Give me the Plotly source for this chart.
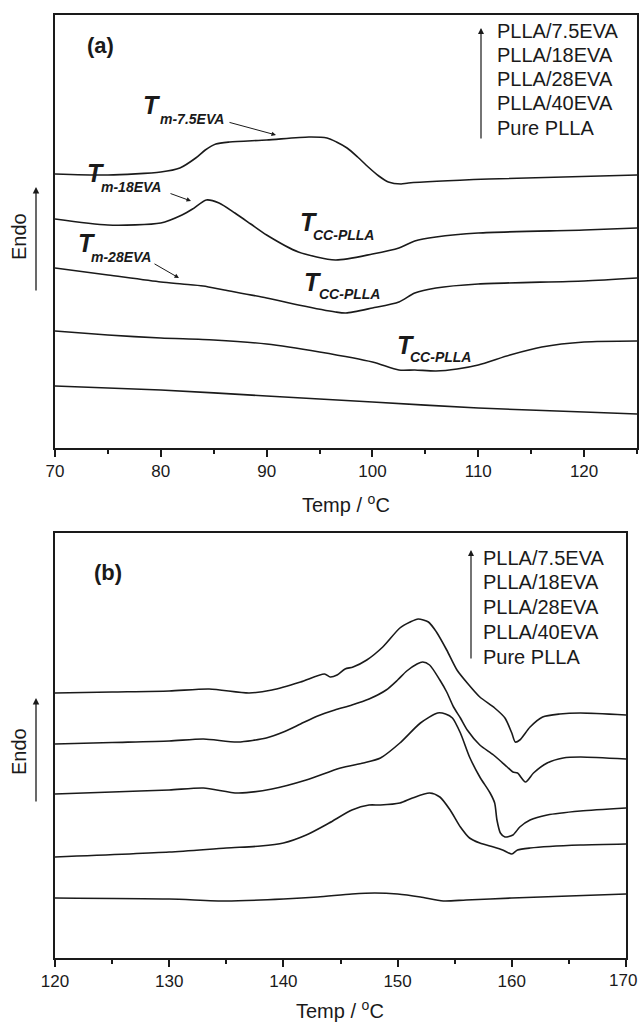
import plotly.graph_objects as go

W, H = 639, 1023
FONT = "Liberation Sans, Arial, sans-serif"
INK = "#1a1a1a"

series_names = ["PLLA/7.5EVA", "PLLA/18EVA", "PLLA/28EVA", "PLLA/40EVA", "Pure PLLA"]

# ---- Panel (a): cold crystallisation region (offset heat flow, a.u.) ----
a_t_75 = [70, 75, 80, 81.8, 83.3, 84.2, 85.2, 86.5, 90, 94, 95.7, 96.6, 97.6, 98.6, 99.6, 100.6, 101.5, 102.7, 103.4, 111, 125]
a_v_75 = [27.4, 27.3, 27.6, 28.0, 29.0, 29.8, 30.4, 30.6, 30.8, 31.1, 31.0, 30.6, 30.0, 29.1, 28.1, 27.2, 26.6, 26.4, 26.5, 26.9, 27.3]

a_t_18 = [70, 75, 80, 82, 83, 84.3, 85.5, 87, 88.5, 90, 93, 96.5, 100, 102.5, 104, 106, 110, 120, 125]
a_v_18 = [22.9, 22.3, 22.5, 23.3, 23.9, 24.8, 24.5, 23.5, 22.4, 21.3, 19.6, 18.8, 19.4, 20.0, 20.7, 21.1, 21.5, 21.8, 22.0]

a_t_28 = [70, 75, 80, 82, 84, 86, 90, 93, 96.5, 97.5, 100, 102.5, 104, 106, 110, 120, 125]
a_v_28 = [18.0, 17.3, 16.6, 16.4, 16.2, 15.8, 15.0, 14.3, 13.6, 13.5, 14.0, 14.6, 15.5, 16.0, 16.4, 16.7, 17.0]

a_t_40 = [70, 75, 80, 85, 90, 95, 100, 102.5, 104, 106, 108, 110, 113, 116, 120, 125]
a_v_40 = [11.7, 11.3, 11.0, 10.8, 10.4, 9.6, 8.6, 7.8, 7.8, 7.7, 7.9, 8.3, 9.3, 10.1, 10.6, 10.7]

a_t_pure = [70, 80, 90, 100, 110, 120, 125]
a_v_pure = [6.2, 5.8, 5.2, 4.6, 4.0, 3.6, 3.4]

# ---- Panel (b): melting region ----
b_t_75 = [120, 125, 130, 133.5, 137, 139, 141.5, 143.6, 144.1, 144.7, 145.4, 146.1, 147.3, 148.7, 150.2, 151.1, 151.8, 152.7, 153.4, 154.3, 155.2, 156.1, 157.2, 158.5, 159.4, 160.0, 160.3, 160.7, 161.6, 162.7, 164.2, 166, 170]
b_v_75 = [26.5, 26.6, 26.7, 26.9, 26.5, 26.8, 27.6, 28.4, 28.1, 28.3, 28.9, 29.1, 29.8, 31.1, 33.0, 33.6, 33.9, 33.6, 32.6, 30.8, 28.8, 27.5, 26.1, 25.0, 24.0, 22.5, 21.6, 21.8, 23.1, 24.1, 24.4, 24.5, 24.3]

b_t_18 = [120, 125, 130, 133, 136, 138.5, 140, 141.5, 143, 144.5, 146, 147.5, 149, 150, 150.8, 151.7, 152.2, 152.8, 153.7, 154.3, 154.9, 155.5, 156.1, 157.2, 158.4, 159.6, 160.1, 160.5, 161.2, 161.9, 163.1, 164.5, 166, 170]
b_v_18 = [21.4, 21.55, 21.7, 21.9, 21.6, 22.0, 22.6, 23.4, 24.2, 24.8, 25.3, 25.9, 26.8, 27.8, 28.7, 29.4, 29.6, 29.3, 27.8, 26.6, 25.1, 24.0, 22.8, 21.3, 20.3, 19.1, 18.6, 18.5, 17.6, 18.5, 19.5, 20.0, 20.1, 19.9]

b_t_28 = [120, 125, 130, 133, 136, 139, 142, 145, 147, 148.5, 150.2, 152, 153.5, 154.2, 154.8, 155.5, 156.3, 157.2, 158.1, 158.5, 158.7, 159.0, 159.4, 160.1, 160.7, 161.6, 163.1, 166, 170]
b_v_28 = [16.4, 16.6, 16.8, 17.0, 16.5, 16.9, 17.8, 19.0, 19.5, 20.0, 21.5, 23.5, 24.5, 24.4, 24.0, 22.5, 20.1, 18.1, 16.5, 15.5, 13.8, 12.5, 12.1, 12.3, 13.1, 13.8, 14.3, 14.7, 15.0]

b_t_40 = [120, 130, 135, 138, 140, 142, 144, 146, 147.5, 148.5, 150.2, 151.3, 152.8, 153.7, 154.6, 155.5, 156.3, 157.2, 158.4, 159.2, 160.0, 160.5, 161.6, 166, 170]
b_v_40 = [10.1, 10.6, 11.0, 11.2, 11.5, 12.3, 13.5, 14.8, 15.3, 15.3, 15.5, 16.0, 16.5, 16.1, 14.8, 13.1, 12.0, 11.5, 11.1, 10.8, 10.4, 10.8, 11.0, 11.3, 11.4]

b_t_pure = [120, 130, 135, 140, 143, 146, 148, 150, 152, 154, 156, 160, 165, 170]
b_v_pure = [6.0, 5.9, 5.7, 5.9, 6.1, 6.4, 6.5, 6.4, 6.1, 5.7, 5.8, 6.0, 6.2, 6.4]

a_ticks = [70, 80, 90, 100, 110, 120]
b_ticks = [120, 130, 140, 150, 160, 170]
b_ticktext = ["120", "130", "140", "150", "160", ""]   # last label drawn flush with the edge below
b_last_label = "170"


def px(x):
    return x / W


def py(y):
    return 1 - y / H


fig = go.Figure()

panel_a = [(a_t_75, a_v_75), (a_t_18, a_v_18), (a_t_28, a_v_28), (a_t_40, a_v_40), (a_t_pure, a_v_pure)]
panel_b = [(b_t_75, b_v_75), (b_t_18, b_v_18), (b_t_28, b_v_28), (b_t_40, b_v_40), (b_t_pure, b_v_pure)]

for name, (t, v) in zip(series_names, panel_a):
    fig.add_trace(go.Scatter(x=t, y=v, mode="lines", name=name, xaxis="x", yaxis="y",
                             line=dict(color=INK, width=1.6, shape="spline", smoothing=0.7),
                             showlegend=False))
for name, (t, v) in zip(series_names, panel_b):
    fig.add_trace(go.Scatter(x=t, y=v, mode="lines", name=name, xaxis="x2", yaxis="y2",
                             line=dict(color=INK, width=1.6, shape="spline", smoothing=0.7),
                             showlegend=False))

axis_common = dict(showline=True, linecolor=INK, linewidth=1.5, mirror=True,
                   showgrid=False, zeroline=False, automargin=False)
xcommon = dict(axis_common, ticks="outside", ticklen=7, tickwidth=1.5, tickcolor=INK,
               tickfont=dict(family=FONT, size=17, color=INK),
               minor=dict(ticks="outside", ticklen=4, tickwidth=1.5, tickcolor=INK, dtick=5))
ycommon = dict(axis_common, showticklabels=False, ticks="")

fig.update_layout(
    width=W, height=H, autosize=False,
    margin=dict(l=0, r=0, t=0, b=0, pad=0, autoexpand=False),
    paper_bgcolor="white", plot_bgcolor="white",
    xaxis=dict(xcommon, domain=[px(55), px(637)], range=[70, 125], tickvals=a_ticks, anchor="y"),
    yaxis=dict(ycommon, domain=[py(448), py(15)], range=[0, 43.3], anchor="x"),
    xaxis2=dict(xcommon, domain=[px(55), px(626)], range=[120, 170], tickvals=b_ticks,
                ticktext=b_ticktext, anchor="y2"),
    yaxis2=dict(ycommon, domain=[py(958), py(533)], range=[0, 42.5], anchor="x2"),
)

ann = []


def text(x, y, s, size, xanchor="center", bold=False, italic=False, angle=0):
    if bold:
        s = "<b>" + s + "</b>"
    if italic:
        s = "<i>" + s + "</i>"
    ann.append(dict(x=px(x), y=py(y), xref="paper", yref="paper", text=s, showarrow=False,
                    xanchor=xanchor, yanchor="middle", textangle=angle,
                    font=dict(family=FONT, size=size, color=INK)))


def arrow(x0, y0, x1, y1, head=2, size=1.0, width=1.2):
    # tail (x0,y0) -> tip (x1,y1), in pixel coordinates
    ann.append(dict(x=px(x1), y=py(y1), xref="paper", yref="paper", text="", showarrow=True,
                    ax=x0 - x1, ay=y0 - y1, arrowhead=head, arrowsize=size, arrowwidth=width,
                    arrowcolor=INK))


# last tick label of panel (b), flush with the right edge
text(639, 980, b_last_label, 17, xanchor="right")

# panel labels
text(85, 46, "(a)", 22, xanchor="left", bold=True)
text(92, 572, "(b)", 22, xanchor="left", bold=True)

# axis titles
text(346, 503, "Temp / <sup>o</sup>C", 20)
text(340, 1009, "Temp / <sup>o</sup>C", 20)
text(19, 237, "Endo", 20, angle=-90)
text(19, 752, "Endo", 20, angle=-90)
arrow(36, 292, 36, 187, head=2, size=1.0, width=1.3)
arrow(36, 803, 36, 698, head=2, size=1.0, width=1.3)

# stacked sample labels
ya = [31, 55, 79, 103, 128]
for s, y in zip(series_names, ya):
    text(495, y, s, 20, xanchor="left")
arrow(481, 140, 481, 28, head=2, size=1.0, width=1.2)

yb = [558, 582, 607, 632, 657]
for s, y in zip(series_names, yb):
    text(481, y, s, 20, xanchor="left")
arrow(471, 660, 471, 550, head=2, size=1.0, width=1.2)


# transition annotations
def tlabel(tx, ty, sub, sx, sy):
    text(tx, ty, "T", 25, bold=True, italic=True)
    text(sx, sy, sub, 14, xanchor="left", bold=True, italic=True)


tlabel(152, 105, "m-7.5EVA", 158, 119)
arrow(228, 122, 276, 135, head=2, size=0.9, width=1.0)
tlabel(96, 173, "m-18EVA", 99, 187)
arrow(169, 193, 191, 201, head=2, size=0.9, width=1.0)
tlabel(309, 222, "CC-PLLA", 311, 235)
tlabel(87, 243, "m-28EVA", 89, 257)
arrow(153, 263, 179, 278, head=2, size=0.9, width=1.0)
tlabel(313, 282, "CC-PLLA", 317, 294)
tlabel(406, 345, "CC-PLLA", 408, 357)

fig.update_layout(annotations=ann)
fig.write_html("out.html")
